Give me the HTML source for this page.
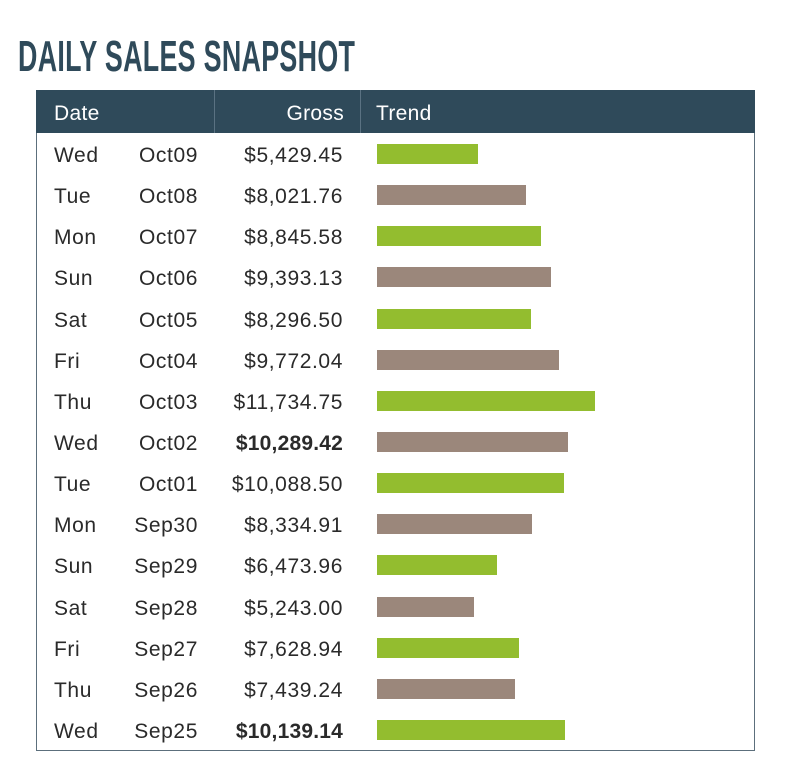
<!DOCTYPE html>
<html><head><meta charset="utf-8"><style>
body{margin:0;width:795px;height:761px;background:#fff;position:relative;overflow:hidden;font-family:"Liberation Sans",sans-serif}
#title{position:absolute;left:18px;top:32px;font-size:44px;font-weight:bold;color:#2f4a5a;transform:scaleX(0.61);transform-origin:0 0;white-space:nowrap;letter-spacing:0.5px}
#tbl{position:absolute;left:36px;top:90px;width:719px;height:661px;border:1.5px solid #5c6f7c;border-top:none;box-sizing:border-box}
#hdr{position:absolute;left:36px;top:90px;width:719px;height:43px;background:#2f4a5a}
.h{position:absolute;top:12px;color:#fff;font-size:21px;letter-spacing:0.3px}
.sep{position:absolute;top:0;width:1px;height:43px;background:#5a7282}
.c{position:absolute;font-size:21px;color:#2a2a2a;white-space:nowrap;letter-spacing:0.6px}
.bar{position:absolute;height:20px}
</style></head><body>
<div id="title">DAILY SALES SNAPSHOT</div>
<div id="tbl"></div>
<div id="hdr">
<div class="h" style="left:18px">Date</div>
<div class="sep" style="left:178px"></div>
<div class="h" style="right:411px">Gross</div>
<div class="sep" style="left:324px"></div>
<div class="h" style="left:340px">Trend</div>
</div>
<div id="rows"></div>
<script>
const days=["Wed","Tue","Mon","Sun","Sat","Fri","Thu","Wed","Tue","Mon","Sun","Sat","Fri","Thu","Wed"];
const dates=["Oct09","Oct08","Oct07","Oct06","Oct05","Oct04","Oct03","Oct02","Oct01","Sep30","Sep29","Sep28","Sep27","Sep26","Sep25"];
const gross=[5429.45,8021.76,8845.58,9393.13,8296.50,9772.04,11734.75,10289.42,10088.50,8334.91,6473.96,5243.00,7628.94,7439.24,10139.14];
const boldRows=[7,14];
const x0=377,scale=218/11734.75,top0=133.4,rowH=41.14;
const root=document.getElementById('rows');
function mk(cls,name,style,text){const e=document.createElement('div');e.className=cls;


e.style.cssText=style;if(text!==undefined)e.textContent=text;root.appendChild(e);return e;}
gross.forEach((v,i)=>{
 const cy=top0+rowH*i+rowH/2;
 mk('c','day-cell','left:54px;top:'+(cy-10)+'px',days[i]);
 mk('c','date-cell','right:'+(795-198)+'px;top:'+(cy-10)+'px',dates[i]);
 const g=mk('c','gross-cell','right:'+(795-343)+'px;top:'+(cy-10)+'px','$'+v.toLocaleString('en-US',{minimumFractionDigits:2,maximumFractionDigits:2}));
 if(boldRows.includes(i)){g.style.fontWeight='bold';g.style.letterSpacing='0.2px';}
 mk('bar','trend-bar','left:'+x0+'px;top:'+(cy-10)+'px;width:'+(v*scale)+'px;background:'+(i%2==0?'#93bd2f':'#9b877b'));
});
</script>
</body></html>
